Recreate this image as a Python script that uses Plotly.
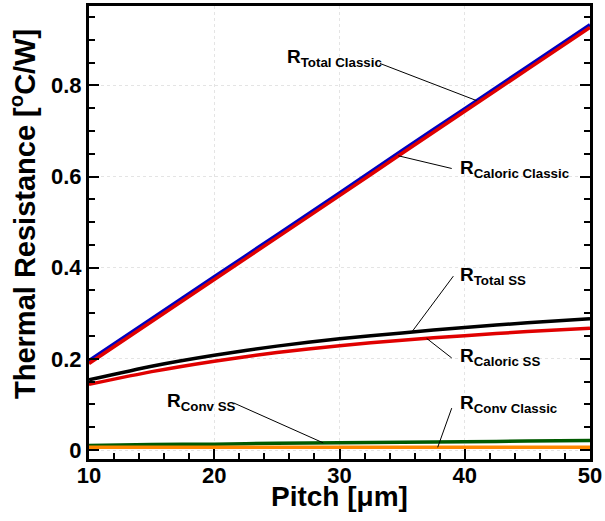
import numpy as np
import plotly.graph_objects as go

# Pitch values [um]
pitch = [10, 15, 20, 25, 30, 35, 40, 45, 50]

# Thermal resistance series [degC/W]
r_total_classic = [0.196, 0.288, 0.380, 0.472, 0.564, 0.657, 0.749, 0.841, 0.933]
r_caloric_classic = [0.190, 0.282, 0.374, 0.466, 0.558, 0.651, 0.743, 0.835, 0.927]
r_total_ss = [0.154, 0.184, 0.208, 0.228, 0.244, 0.257, 0.269, 0.279, 0.288]
r_caloric_ss = [0.144, 0.172, 0.195, 0.214, 0.229, 0.241, 0.251, 0.260, 0.267]
r_conv_ss = [0.010, 0.012, 0.013, 0.015, 0.016, 0.017, 0.018, 0.020, 0.021]
r_conv_classic = [0.006, 0.006, 0.006, 0.006, 0.006, 0.006, 0.006, 0.006, 0.006]

x_ticks = [10, 20, 30, 40, 50]
y_ticks = [0, 0.2, 0.4, 0.6, 0.8]
y_tick_text = ["0", "0.2", "0.4", "0.6", "0.8"]

FONT = "Liberation Sans, Arial, sans-serif"

series = [
    ("R Total Classic", r_total_classic, "#0000c0"),
    ("R Caloric Classic", r_caloric_classic, "#e00000"),
    ("R Total SS", r_total_ss, "#000000"),
    ("R Caloric SS", r_caloric_ss, "#e00000"),
    ("R Conv SS", r_conv_ss, "#005a00"),
    ("R Conv Classic", r_conv_classic, "#ff8800"),
]

fig = go.Figure()
for name, vals, color in series:
    fig.add_trace(go.Scatter(
        x=pitch, y=vals, mode="lines", name=name,
        line=dict(color=color, width=3.5, shape="spline", smoothing=0.6),
        showlegend=False,
    ))

# Callout labels: (text, label x, label y, leader tail x, tail y, tip x, curve)
callouts = [
    ("R<sub>Total Classic</sub>", 25.65, 0.860, 33.23, 0.848, 40.95, r_total_classic),
    ("R<sub>Caloric Classic</sub>", 39.46, 0.617, 38.96, 0.6176, 34.7, r_caloric_classic),
    ("R<sub>Total SS</sub>", 39.46, 0.3816, 39.09, 0.3815, 35.77, r_total_ss),
    ("R<sub>Caloric SS</sub>", 39.46, 0.205, 38.96, 0.202, 36.96, r_caloric_ss),
    ("R<sub>Conv SS</sub>", 16.07, 0.1047, 21.58, 0.103, 28.7, r_conv_ss),
    ("R<sub>Conv Classic</sub>", 39.46, 0.1004, 38.96, 0.092, 37.84, r_conv_classic),
]

for text, lx, ly, tx, ty, px, curve in callouts:
    tip_y = float(np.interp(px, pitch, curve))
    fig.add_shape(type="line", xref="x", yref="y", x0=tx, y0=ty, x1=px, y1=tip_y,
                  line=dict(color="black", width=1))
    fig.add_annotation(x=lx, y=ly, xref="x", yref="y", text=text, showarrow=False,
                       xanchor="left", yanchor="middle",
                       font=dict(family=FONT, size=19, color="black", weight="bold"))

axis_common = dict(
    showline=True, linecolor="black", linewidth=3,
    ticks="inside", tickcolor="black", tickwidth=2, ticklen=10,
    showgrid=True, gridcolor="#e4e4e4", griddash="dot", gridwidth=1,
    zeroline=False,
    tickfont=dict(family=FONT, size=22, color="black", weight="bold"),
)

fig.update_xaxes(
    **axis_common,
    range=[10, 50], tickvals=x_ticks, mirror=True, ticklabelstandoff=-5,
    minor=dict(ticks="inside", ticklen=6, tickwidth=1.5, tickcolor="black", dtick=2, tick0=0, showgrid=False),
)
fig.update_yaxes(
    **axis_common,
    range=[-0.0196, 0.974], tickvals=y_ticks, ticktext=y_tick_text, mirror="allticks",
    minor=dict(ticks="inside", ticklen=6, tickwidth=1.5, tickcolor="black", dtick=0.05, tick0=0, showgrid=False),
)

# Axis titles
fig.add_annotation(xref="paper", yref="paper", x=0.5, y=-0.045, yanchor="top", xanchor="center",
                   text="Pitch [&#956;m]", showarrow=False,
                   font=dict(family=FONT, size=28, color="black", weight="bold"))
fig.add_annotation(xref="paper", yref="paper", x=-0.133, y=0.5417, xanchor="center", yanchor="middle",
                   textangle=-90, text="Thermal Resistance [<sup>o</sup>C/W]", showarrow=False,
                   font=dict(family=FONT, size=29, color="black", weight="bold"))

fig.update_layout(
    width=605, height=521,
    margin=dict(l=89, r=15, t=3, b=62),
    paper_bgcolor="white", plot_bgcolor="white",
)

fig.write_html("out.html")
